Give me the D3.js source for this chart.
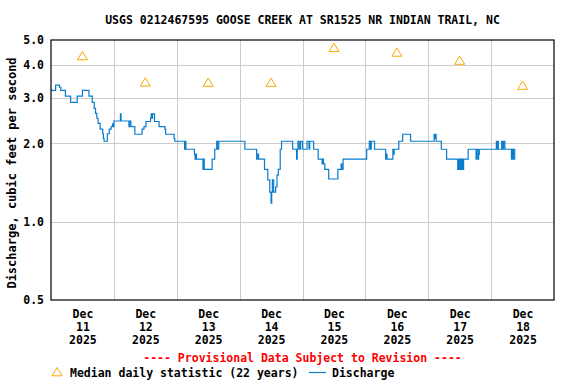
<!DOCTYPE html>
<html>
<head>
<script src="https://d3js.org/d3.v7.min.js"></script>
<style>
body { margin: 0; background: #fff; }
text { font-family: "DejaVu Sans Mono", monospace; font-weight: bold; }
.grid line { stroke: #cccccc; stroke-width: 1px; shape-rendering: crispEdges; }
.grid path { display: none; }
.axis path { display: none; }
.axis text { font-size: 11.5px; fill: #000; }
</style>
</head>
<body>
<svg width="576" height="384"></svg>
<script>
// hours after Dec 11 2025 00:00 and discharge (cfs), step-after
const flowHours = [0, 1.75, 3.25, 3.75, 5.5, 7.5, 10, 12, 14.5, 15.75, 16.5, 17, 17.5, 18, 18.75, 19.75, 20, 20.25,
  21.5, 22.25, 23, 23.5, 23.75, 24, 26.5, 26.75, 29.75, 30, 30.5, 32, 34.75, 35.5, 36.25, 38, 38.25, 38.5, 38.75,
  39.5, 41.25, 43.5, 43.75, 47, 47.25, 51, 51.25, 51.5, 54.75, 55, 55.25, 55.5, 58, 58.25, 58.5, 61.5, 62.5, 63.25,
  63.5, 64, 74, 78.5, 78.75, 79.25, 81.5, 82.75, 83.5, 84, 84.25, 84.5, 85, 85.75, 86.25, 86.75, 87.5, 88, 92.25,
  93.75, 94, 94.25, 94.75, 95.25, 96, 97.75, 98.5, 98.75, 100.25, 102, 103.5, 103.75, 104, 104.5, 106, 109.5,
  110.75, 111, 111.5, 120.5, 121.5, 122, 122.25, 123.5, 127.75, 128, 128.25, 130.5, 130.75, 131, 132.75, 134.25,
  137.25, 146.25, 146.5, 146.75, 147, 149, 151, 155.25, 155.5, 155.75, 156, 156.25, 156.5, 156.75, 157, 157.25,
  157.5, 159.25, 162.25, 162.5, 163, 163.25, 163.5, 170, 170.25, 170.5, 170.75, 172, 172.5, 172.75, 173.25,
  175.75, 176, 176.25, 176.5, 177, 177.25];
const flowCfs = [3.20, 3.35, 3.29, 3.20, 3.04, 2.88, 3.04, 3.20, 3.04, 2.88, 2.73, 2.61, 2.50, 2.39, 2.27, 2.18, 2.09, 2.04,
  2.18, 2.27, 2.32, 2.38, 2.32, 2.44, 2.60, 2.44, 2.32, 2.44, 2.32, 2.17, 2.27, 2.32, 2.43, 2.50, 2.60, 2.50, 2.60,
  2.43, 2.32, 2.27, 2.17, 2.09, 2.04, 1.90, 2.04, 1.90, 1.82, 1.74, 1.82, 1.74, 1.59, 1.74, 1.59, 1.74, 1.90, 2.04,
  1.90, 2.04, 1.90, 1.74, 1.82, 1.74, 1.59, 1.45, 1.30, 1.18, 1.30, 1.45, 1.30, 1.36, 1.51, 1.59, 1.90, 2.04, 1.90,
  1.74, 1.90, 2.04, 1.90, 2.04, 1.90, 2.04, 1.90, 2.04, 1.90, 1.74, 1.67, 1.74, 1.67, 1.59, 1.46, 1.59,
  1.67, 1.59, 1.74, 1.90, 2.04, 1.90, 2.04, 1.90, 1.74, 1.82, 1.74, 1.90, 1.82, 1.90, 2.04, 2.17,
  2.04, 2.17, 2.09, 2.17, 2.04, 1.90, 1.74, 1.59, 1.74, 1.59, 1.74, 1.59, 1.74, 1.59, 1.74, 1.59,
  1.74, 1.90, 1.74, 1.90, 1.74, 1.82, 1.90, 2.04, 1.90, 2.04, 1.90, 2.04, 1.90, 2.04, 1.90,
  1.74, 1.90, 1.74, 1.90, 1.74, 1.74];

const days = [11, 12, 13, 14, 15, 16, 17, 18];
const medians = [4.34, 3.44, 3.43, 3.43, 4.67, 4.48, 4.17, 3.34];
const yTicks = [0.5, 1.0, 2.0, 3.0, 4.0, 5.0];
const yGrid = [1.0, 2.0, 3.0, 4.0];

const t0 = Date.UTC(2025, 11, 11);
const hr = 3600e3;
const flow = flowHours.map((h, i) => ({ t: new Date(t0 + h * hr), v: flowCfs[i] }));
const med = days.map((d, i) => ({ t: new Date(Date.UTC(2025, 11, d, 12)), v: medians[i] }));

const svg = d3.select("svg");
const pL = 51, pR = 554, pT = 40, pB = 300;

const x = d3.scaleUtc()
  .domain([new Date(t0), new Date(Date.UTC(2025, 11, 19))])
  .range([pL, pR]);
const y = d3.scaleLog().domain([0.5, 5]).range([pB, pT]);

// grid
svg.append("g")
  .attr("class", "grid")
  .attr("transform", `translate(${pL},0)`)
  .call(d3.axisLeft(y).tickValues(yGrid).tickSize(-(pR - pL)).tickFormat(""));
svg.append("g")
  .attr("class", "grid")
  .attr("transform", `translate(0,${pB})`)
  .call(d3.axisBottom(x)
    .tickValues(days.slice(1).map(d => new Date(Date.UTC(2025, 11, d))))
    .tickSize(-(pB - pT)).tickFormat(""));

// axes labels
svg.append("g")
  .attr("class", "axis")
  .attr("transform", `translate(${pL},0)`)
  .call(d3.axisLeft(y).tickValues(yTicks).tickSize(0).tickPadding(7).tickFormat(d3.format(".1f")));

const xa = svg.append("g")
  .attr("class", "axis")
  .attr("transform", `translate(0,${pB})`)
  .call(d3.axisBottom(x).tickValues(med.map(d => d.t)).tickSize(0).tickFormat(""));
xa.selectAll(".tick text").each(function (d) {
  const t = d3.select(this).attr("y", 0).attr("dy", null);
  ["Dec", String(d.getUTCDate()), "2025"].forEach((s, i) => {
    t.append("tspan").attr("x", 0).attr("y", 18 + i * 13.2).text(s);
  });
});

// discharge
const line = d3.line()
  .x(d => x(d.t))
  .y(d => y(d.v))
  .curve(d3.curveStepAfter);
svg.append("path")
  .datum(flow)
  .attr("fill", "none")
  .attr("stroke", "#0a7ccc")
  .attr("stroke-width", 1.2)
  .attr("d", line);

// medians
const tri = (cx, cy) => `M${cx},${cy - 4.5}L${cx + 5},${cy + 3.8}L${cx - 5},${cy + 3.8}Z`;
svg.selectAll(".med")
  .data(med)
  .enter()
  .append("path")
  .attr("class", "med")
  .attr("d", d => tri(x(d.t), y(d.v)))
  .attr("fill", "none")
  .attr("stroke", "orange")
  .attr("stroke-width", 1);

// frame
svg.append("rect")
  .attr("x", pL).attr("y", pT)
  .attr("width", pR - pL).attr("height", pB - pT)
  .attr("fill", "none").attr("stroke", "#000").attr("stroke-width", 1.2);

// titles
svg.append("text")
  .attr("x", (pL + pR) / 2).attr("y", 24)
  .attr("text-anchor", "middle").attr("font-size", "11.5px")
  .text("USGS 0212467595 GOOSE CREEK AT SR1525 NR INDIAN TRAIL, NC");
svg.append("text")
  .attr("transform", `translate(16,${(pT + pB) / 2 + 3}) rotate(-90)`)
  .attr("text-anchor", "middle").attr("font-size", "12px")
  .text("Discharge, cubic feet per second");
svg.append("text")
  .attr("x", (pL + pR) / 2).attr("y", 362)
  .attr("text-anchor", "middle").attr("font-size", "11.5px").attr("fill", "red")
  .text("---- Provisional Data Subject to Revision ----");

// legend
svg.append("path").attr("d", tri(57, 372)).attr("fill", "none").attr("stroke", "orange");
svg.append("text").attr("x", 70).attr("y", 377).attr("font-size", "11.5px")
  .text("Median daily statistic (22 years)");
svg.append("line").attr("x1", 309).attr("x2", 326).attr("y1", 372.5).attr("y2", 372.5)
  .attr("stroke", "#0a7ccc").attr("stroke-width", 1.2);
svg.append("text").attr("x", 332).attr("y", 377).attr("font-size", "11.5px").text("Discharge");
</script>
</body>
</html>
